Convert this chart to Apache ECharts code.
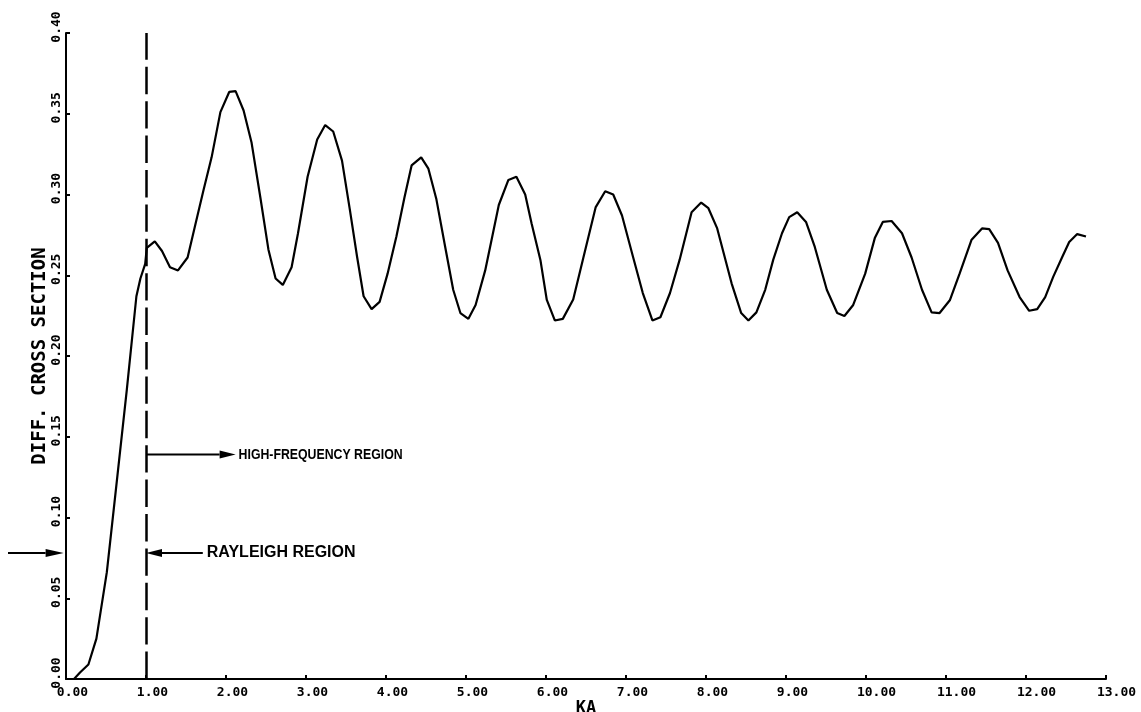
<!DOCTYPE html>
<html>
<head>
<meta charset="utf-8">
<style>
  html, body { margin: 0; padding: 0; background: #fff; }
  #chart { width: 1141px; height: 712px; }
</style>
<script src="https://cdn.jsdelivr.net/npm/echarts@6/dist/echarts.min.js"></script>
</head>
<body>
<div id="chart"></div>
<script>
// Differential cross section of a sphere versus size parameter ka
const kaValues = [
  0.00, 0.10, 0.175, 0.28, 0.38, 0.51, 0.61, 0.76, 0.88, 0.93, 0.99,
  1.01, 1.11, 1.20, 1.30, 1.40, 1.52, 1.62, 1.72, 1.82, 1.93,
  2.04, 2.12, 2.22, 2.32, 2.43, 2.53, 2.62, 2.71, 2.82, 2.90,
  3.02, 3.14, 3.24, 3.34, 3.45, 3.55, 3.64, 3.72, 3.82, 3.92,
  4.02, 4.13, 4.23, 4.32, 4.44, 4.53, 4.63, 4.74, 4.84, 4.93,
  5.03, 5.12, 5.24, 5.32, 5.41, 5.53, 5.63, 5.74, 5.82, 5.93,
  6.01, 6.11, 6.21, 6.34, 6.46, 6.62, 6.74, 6.84, 6.95,
  7.09, 7.21, 7.33, 7.43, 7.55, 7.67, 7.82, 7.94,
  8.03, 8.14, 8.32, 8.44, 8.53, 8.63, 8.74, 8.84, 8.95,
  9.04, 9.14, 9.25, 9.36, 9.51, 9.64, 9.73, 9.84, 9.99,
  10.11, 10.21, 10.32, 10.45, 10.57, 10.70, 10.82, 10.92,
  11.05, 11.17, 11.32, 11.45, 11.54, 11.65, 11.77, 11.92,
  12.04, 12.14, 12.24, 12.34, 12.45, 12.54, 12.64, 12.75
];
const crossSection = [
  0.000, 0.000, 0.004, 0.009, 0.025, 0.066, 0.111, 0.179, 0.237, 0.248, 0.257,
  0.267, 0.271, 0.265, 0.255, 0.253, 0.261, 0.282, 0.303, 0.323, 0.351,
  0.3635, 0.364, 0.352, 0.332, 0.298, 0.266, 0.248, 0.244, 0.255, 0.276,
  0.311, 0.334, 0.343, 0.339, 0.321, 0.290, 0.261, 0.237, 0.229, 0.2335,
  0.251, 0.274, 0.298, 0.318, 0.323, 0.316, 0.297, 0.2675, 0.241, 0.2266,
  0.223, 0.2316, 0.253, 0.272, 0.2935, 0.309, 0.311, 0.300, 0.282, 0.2595,
  0.2347, 0.222, 0.223, 0.235, 0.2595, 0.292, 0.302, 0.300, 0.287,
  0.261, 0.239, 0.222, 0.224, 0.239, 0.2595, 0.289, 0.295,
  0.2915, 0.279, 0.245, 0.2266, 0.222, 0.227, 0.241, 0.2595, 0.276,
  0.286, 0.289, 0.283, 0.2675, 0.241, 0.2266, 0.2248, 0.2316, 0.251,
  0.273, 0.283, 0.2836, 0.276, 0.261, 0.241, 0.227, 0.2266,
  0.2347, 0.251, 0.272, 0.279, 0.2786, 0.270, 0.253, 0.2365,
  0.228, 0.229, 0.2365, 0.249, 0.261, 0.2706, 0.2755, 0.274
];

// Axis ranges and tick steps
const xRange = [0, 13];
const xStep = 1;
const yRange = [0, 0.40];
const yStep = 0.05;

// Boundary between the two scattering regimes
const boundaryKa = 1.0;

// Annotation arrows in data space
const highFreqArrow = { from: 1.0, to: 2.12, level: 0.139, text: 'HIGH-FREQUENCY REGION' };
const rayleighArrow = { from: 1.71, to: 1.0, level: 0.078, text: 'RAYLEIGH REGION' };
const axisPointer = { from: -0.725, to: -0.03, level: 0.078 };

const MONO = "'DejaVu Sans Mono', monospace";
const SANS = "'Liberation Sans', Arial, sans-serif";

const chart = echarts.init(document.getElementById('chart'), null, { renderer: 'canvas' });

const points = kaValues.map((k, i) => [k, crossSection[i]]);

chart.setOption({
  animation: false,
  backgroundColor: '#ffffff',
  grid: { left: 66, right: 35, top: 33, bottom: 33, outerBoundsMode: 'none', containLabel: false },
  xAxis: {
    type: 'value',
    min: xRange[0], max: xRange[1], interval: xStep,
    name: 'KA',
    nameLocation: 'middle',
    nameGap: 21,
    nameMoveOverlap: false,
    nameTextStyle: { fontFamily: MONO, fontWeight: 'bold', fontSize: 17, color: '#000' },
    axisLine: { lineStyle: { color: '#000', width: 2 } },
    axisTick: { inside: true, length: 4, lineStyle: { color: '#000', width: 2 } },
    splitLine: { show: false },
    axisLabel: {
      margin: 7,
      formatter: v => {
        const s = v.toFixed(2);
        return (s.length > 4 ? '{b|' : '{a|') + s + '}';
      },
      rich: {
        a: { fontFamily: MONO, fontWeight: 'bold', fontSize: 13, color: '#000', padding: [0, 0, 0, 13] },
        b: { fontFamily: MONO, fontWeight: 'bold', fontSize: 13, color: '#000', padding: [0, 0, 0, 21] }
      }
    }
  },
  yAxis: {
    type: 'value',
    min: yRange[0], max: yRange[1], interval: yStep,
    name: 'DIFF. CROSS SECTION',
    nameLocation: 'middle',
    nameGap: 16,
    nameMoveOverlap: false,
    nameTextStyle: { fontFamily: MONO, fontWeight: 'bold', fontSize: 19, color: '#000' },
    axisLine: { lineStyle: { color: '#000', width: 2 } },
    axisTick: { inside: true, length: 4, lineStyle: { color: '#000', width: 2 } },
    splitLine: { show: false },
    axisLabel: {
      rotate: 90,
      margin: 3,
      formatter: v => '{a|' + v.toFixed(2) + '}',
      rich: {
        a: { fontFamily: MONO, fontWeight: 'bold', fontSize: 13, color: '#000', padding: [0, 0, 0, 12] }
      }
    }
  },
  series: [{
    type: 'line',
    data: points,
    showSymbol: false,
    smooth: false,
    lineStyle: { color: '#000', width: 2.2 },
    markLine: {
      silent: true,
      symbol: ['none', 'none'],
      label: { show: false },
      lineStyle: { color: '#000', width: 2.5, type: [27.4, 7] },
      data: [{ xAxis: boundaryKa }]
    }
  }]
});

// Arrows and region captions, positioned through the chart's own scales
function px(ka, v) {
  return chart.convertToPixel({ gridIndex: 0 }, [ka, v]);
}

function arrowShapes(a, headLen, halfW) {
  const p0 = px(a.from, a.level);
  const p1 = px(a.to, a.level);
  const dir = p1[0] > p0[0] ? 1 : -1;
  const baseX = p1[0] - dir * headLen;
  return [
    {
      type: 'line', silent: true,
      shape: { x1: p0[0], y1: p0[1], x2: baseX, y2: p1[1] },
      style: { stroke: '#000', lineWidth: 2 }
    },
    {
      type: 'polygon', silent: true,
      shape: { points: [[p1[0], p1[1]], [baseX, p1[1] - halfW], [baseX, p1[1] + halfW]] },
      style: { fill: '#000' }
    }
  ];
}

const hfTip = px(highFreqArrow.to, highFreqArrow.level);
const rlStart = px(rayleighArrow.from, rayleighArrow.level);

chart.setOption({
  graphic: [].concat(
    arrowShapes(highFreqArrow, 16, 4),
    arrowShapes(rayleighArrow, 16, 4),
    arrowShapes(axisPointer, 18, 4),
    [
      {
        // condensed bold caption
        type: 'text', silent: true,
        x: hfTip[0] + 3, y: hfTip[1],
        scaleX: 0.82,
        style: {
          text: highFreqArrow.text, fill: '#000',
          font: 'bold 15px ' + SANS,
          align: 'left', verticalAlign: 'middle'
        }
      },
      {
        type: 'text', silent: true,
        x: rlStart[0] + 4, y: rlStart[1],
        style: {
          text: rayleighArrow.text, fill: '#000',
          font: 'bold 16px ' + SANS,
          align: 'left', verticalAlign: 'middle'
        }
      }
    ]
  )
});
</script>
</body>
</html>
